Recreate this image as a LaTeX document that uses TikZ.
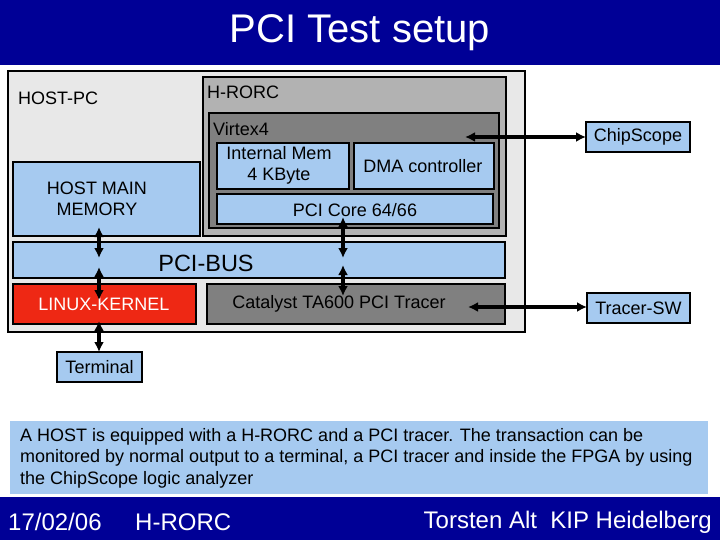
\documentclass[tikz,border=0pt]{standalone}
\usepackage{fontspec}
\setmainfont{Liberation Sans}
\usetikzlibrary{arrows.meta}
\definecolor{navy}{RGB}{0,0,150}
\definecolor{lblue}{RGB}{166,202,240}
\definecolor{lgray}{RGB}{232,232,232}
\definecolor{mgray}{RGB}{178,178,178}
\definecolor{dgray}{RGB}{128,128,128}
\definecolor{kred}{RGB}{238,40,20}
\tikzset{
  blk/.style={draw=black, line width=2pt, inner sep=0pt, outer sep=0pt},
  lbl/.style={inner sep=0pt, font=\fontsize{18}{21}\selectfont},
  dbl/.style={line width=3.2pt, {Latex[length=10pt,width=10pt]}-{Latex[length=10pt,width=10pt]}},
}
\begin{document}
\begin{tikzpicture}[x=1pt,y=-1pt]
\useasboundingbox (0,0) rectangle (720,540);
\fill[white] (0,0) rectangle (720,540);
% title bar
\fill[navy] (0,0) rectangle (720,65);
\node[lbl, text=white, font=\fontsize{40}{44}\selectfont] (title) at (360,33) {PCI Test setup};
% host pc
\node[blk, fill=lgray, minimum width=517pt, minimum height=261pt] (hostpc) at (266.5,201.5) {};
\node[lbl, anchor=west] (hostpclbl) at (18,98) {HOST-PC};
% H-RORC
\node[blk, fill=mgray, minimum width=303pt, minimum height=159pt] (hrorc) at (354.5,156.5) {};
\node[lbl, anchor=west] (hrorclbl) at (207,92) {H-RORC};
% Virtex4
\node[blk, fill=dgray, minimum width=290pt, minimum height=115pt] (virtex) at (354,170.5) {};
\node[lbl, anchor=west] (virtexlbl) at (213,129) {Virtex4};
\node[blk, fill=lblue, minimum width=132pt, minimum height=46pt] (intmem) at (283,166) {};
\node[lbl, align=center] (intmemlbl) at (279,165.5) {Internal Mem\\4 KByte};
\node[blk, fill=lblue, minimum width=140pt, minimum height=46pt] (dma) at (424,166) {};
\node[lbl] (dmalbl) at (423,166) {DMA controller};
\node[blk, fill=lblue, minimum width=276pt, minimum height=30pt] (pcicore) at (355,209) {};
\node[lbl] (pcicorelbl) at (355,210) {PCI Core 64/66};
% host main memory
\node[blk, fill=lblue, minimum width=187pt, minimum height=74pt] (hmm) at (106.5,199) {};
\node[lbl, align=center] (hmmlbl) at (97,198.5) {HOST MAIN\\MEMORY};
% PCI bus
\node[blk, fill=lblue, minimum width=492pt, minimum height=36pt] (pcibus) at (259,260) {};
\node[lbl, font=\fontsize{23.5}{26}\selectfont] (pcibuslbl) at (206,263) {PCI-BUS};
% linux kernel
\node[blk, fill=kred, minimum width=183pt, minimum height=40pt] (linux) at (104.5,304) {};
\node[lbl, text=white] (linuxlbl) at (104,304) {LINUX-KERNEL};
% catalyst
\node[blk, fill=dgray, minimum width=298pt, minimum height=40pt] (catalyst) at (356,304) {};
\node[lbl] (catalystlbl) at (339,304) {Catalyst TA600 PCI Tracer};
% external boxes
\node[blk, fill=lblue, minimum width=104pt, minimum height=30pt] (chipscope) at (638,137) {};
\node[lbl] (chipscopelbl) at (638,137) {ChipScope};
\node[blk, fill=lblue, minimum width=103pt, minimum height=30pt] (tracersw) at (638.5,308) {};
\node[lbl] (tracerswlbl) at (638.5,308) {Tracer-SW};
\node[blk, fill=lblue, minimum width=85pt, minimum height=30pt] (terminal) at (99.5,367) {};
\node[lbl] (terminallbl) at (99.5,367) {Terminal};
% arrow end points
\coordinate (a1) at (99,227);
\coordinate (a2) at (99,258);
\coordinate (b1) at (99,267);
\coordinate (b2) at (99,300);
\coordinate (c1) at (99,321);
\coordinate (c2) at (99,352);
\coordinate (d1) at (343,217);
\coordinate (d2) at (343,258);
\coordinate (e1) at (343,265);
\coordinate (e2) at (343,296);
\coordinate (f1) at (465,137);
\coordinate (f2) at (586,137);
\coordinate (g1) at (468,307);
\coordinate (g2) at (587,307);
\draw[dbl] (a1) -- (a2);
\draw[dbl] (b1) -- (b2);
\draw[dbl] (c1) -- (c2);
\draw[dbl] (d1) -- (d2);
\draw[dbl] (e1) -- (e2);
\draw[dbl] (f1) -- (f2);
\draw[dbl] (g1) -- (g2);
% description
\fill[lblue] (10,421) rectangle (708,494);
\node[inner sep=0pt, anchor=west, align=left, font=\fontsize{18}{21.5}\selectfont] (desc) at (20,458) {A HOST is equipped with a H-RORC and a PCI tracer. The transaction can be\\monitored by normal output to a terminal, a PCI tracer and inside the FPGA by using\\the ChipScope logic analyzer};
% footer
\fill[navy] (0,497) rectangle (720,540);
\node[inner sep=0pt, anchor=west, text=white, font=\fontsize{24}{28}\selectfont] (date) at (8,522) {17/02/06};
\node[inner sep=0pt, anchor=west, text=white, font=\fontsize{24}{28}\selectfont] (proj) at (135,522) {H-RORC};
\node[inner sep=0pt, anchor=east, text=white, font=\fontsize{24}{28}\selectfont] (author) at (712,522) {Torsten Alt\ \ KIP Heidelberg};
\end{tikzpicture}
\end{document}
